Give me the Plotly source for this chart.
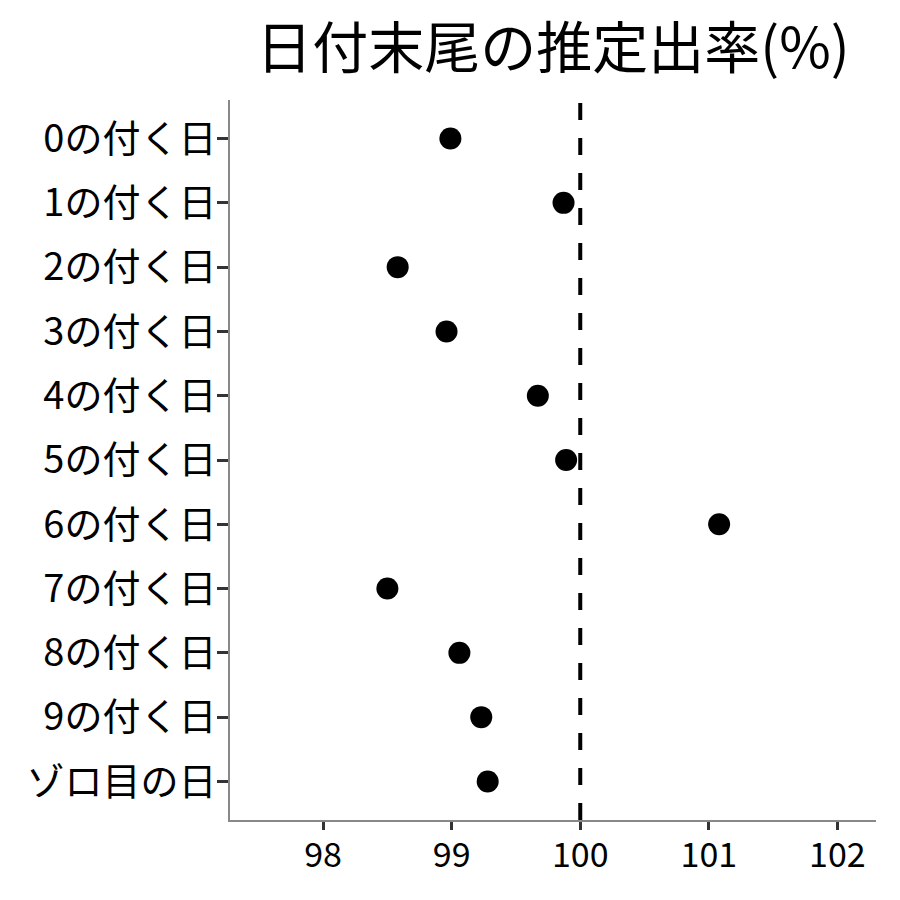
import plotly.graph_objects as go

categories = ["0の付く日", "1の付く日", "2の付く日", "3の付く日", "4の付く日",
              "5の付く日", "6の付く日", "7の付く日", "8の付く日", "9の付く日", "ゾロ目の日"]
rates = [98.99, 99.87, 98.58, 98.96, 99.67, 99.89, 101.08, 98.50, 99.06, 99.23, 99.28]
x_ticks = [98, 99, 100, 101, 102]
reference_value = 100
title_text = "日付末尾の推定出率(%)"

font_family = "Noto Sans CJK JP"

fig = go.Figure()
fig.add_trace(go.Scatter(
    x=rates, y=categories, mode="markers",
    marker=dict(color="black", size=22),
    showlegend=False, cliponaxis=False,
))
fig.add_shape(type="line", xref="x", yref="paper",
              x0=reference_value, x1=reference_value, y0=0, y1=1,
              line=dict(color="black", width=4, dash="17px,18px"))

fig.update_layout(
    width=892, height=892,
    margin=dict(l=222, r=24, t=92, b=80),
    plot_bgcolor="white", paper_bgcolor="white",
    font=dict(family=font_family, color="black"),
    title=dict(text=title_text, x=0.5, xref="paper", xanchor="center",
               y=0.955, yanchor="middle", yref="container",
               font=dict(size=56, family=font_family, color="black")),
)
fig.update_xaxes(
    range=[97.276, 102.30], tickvals=x_ticks, ticktext=[str(v) for v in x_ticks],
    showgrid=False, zeroline=False,
    showline=True, linecolor="#888888", linewidth=2,
    ticks="outside", ticklen=8, tickwidth=3, tickcolor="#333333",
    ticklabelstandoff=-4,
    tickfont=dict(size=34, family=font_family, color="black"),
)
fig.update_yaxes(
    type="category", categoryorder="array", categoryarray=categories,
    range=[10.6, -0.6],
    showgrid=False, zeroline=False,
    showline=True, linecolor="#888888", linewidth=2,
    ticks="outside", ticklen=11, tickwidth=3, tickcolor="#333333",
    ticklabelstandoff=-7,
    tickfont=dict(size=38, family=font_family, color="black"),
)

fig.write_html("out.html")
